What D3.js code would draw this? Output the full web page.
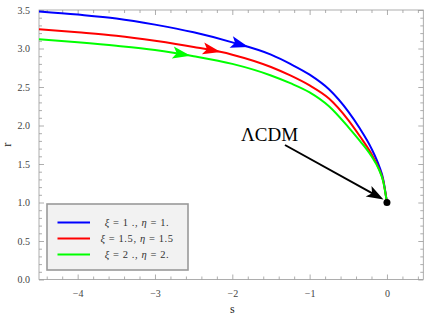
<!DOCTYPE html>
<html>
<head>
<meta charset="utf-8">
<script src="https://cdn.jsdelivr.net/npm/d3@7/dist/d3.min.js"></script>
<style>
    body { margin: 0; background: #fff; }
    svg text { font-family: "Liberation Serif", "DejaVu Serif", serif; }
</style>
</head>
<body>
<div id="chart"></div>
<script>
// s grid shared by the three curves
var sValues = [-4.5, -4.0, -3.5, -3.0, -2.5, -2.0, -1.5, -1.25, -1.0, -0.75, -0.5, -0.35, -0.2, -0.1, -0.05, 0];

// r values
var rBlue  = [3.48, 3.44, 3.39, 3.31, 3.21, 3.08, 2.92, 2.80, 2.66, 2.47, 2.18, 1.96, 1.70, 1.47, 1.31, 1.0];
var rRed   = [3.25, 3.21, 3.165, 3.10, 3.02, 2.92, 2.76, 2.65, 2.52, 2.35, 2.07, 1.86, 1.63, 1.43, 1.29, 1.0];
var rGreen = [3.12, 3.08, 3.035, 2.98, 2.90, 2.80, 2.65, 2.55, 2.43, 2.25, 1.98, 1.80, 1.60, 1.42, 1.28, 1.0];

var seriesNames = ["\u03be = 1 ., \u03b7 = 1.", "\u03be = 1.5, \u03b7 = 1.5", "\u03be = 2 ., \u03b7 = 2."];
var seriesColors = ["#0000ff", "#ff0000", "#00ff00"];
// where the arrow heads sit (s of the tip)
var arrowS = [-1.79, -2.15, -2.54];

// fixed point
var pointS = [0], pointR = [1];
var pointLabel = "\u039bCDM";

var xTicks = [-4, -3, -2, -1, 0];
var yTicks = [0, 0.5, 1.0, 1.5, 2.0, 2.5, 3.0, 3.5];

var width = 427, height = 320;
var margin = {top: 10, right: 3.7, bottom: 40.5, left: 39};
var svg, x, y;

function init() {
    svg = d3.select("#chart").append("svg")
        .attr("width", width)
        .attr("height", height);

    x = d3.scaleLinear()
        .domain([-4.5, 0.47])
        .range([margin.left, width - margin.right]);
    y = d3.scaleLinear()
        .domain([0, 3.5])
        .range([height - margin.bottom, margin.top]);

    drawAxes();
    drawCurves();
    drawLegend();
    drawPoint();
}

function styleAxis(g) {
    g.attr("font-family", "Liberation Serif, serif");
    g.select(".domain").remove();
    g.selectAll("line").attr("stroke", "#999").attr("stroke-width", 0.8);
    g.selectAll("text")
        .attr("fill", "#444")
        .style("font-size", "10px")
        .style("font-family", "'Liberation Serif', serif");
}

function drawAxes() {
    var x0 = margin.left, x1 = width - margin.right;
    var y0 = height - margin.bottom, y1 = margin.top;

    var xMinor = d3.range(-4.4, 0.47, 0.2).filter(function (v) { return Math.abs(Math.round(v) - v) > 1e-6; });
    var yMinor = d3.range(0.1, 3.5, 0.1).filter(function (v) { return Math.abs(Math.round(v * 2) - v * 2) > 1e-6; });

    var fmtX = function (d) { return d < 0 ? "\u2212" + (-d) : d; };

    // bottom
    svg.append("g").attr("transform", "translate(0," + y0 + ")")
        .call(d3.axisBottom(x).tickValues(xTicks).tickSizeInner(-5).tickPadding(10).tickFormat(fmtX))
        .call(styleAxis);
    svg.append("g").attr("transform", "translate(0," + y0 + ")")
        .call(d3.axisBottom(x).tickValues(xMinor).tickSizeInner(-3).tickFormat(""))
        .call(styleAxis);
    // top
    svg.append("g").attr("transform", "translate(0," + y1 + ")")
        .call(d3.axisTop(x).tickValues(xTicks).tickSizeInner(-5).tickFormat(""))
        .call(styleAxis);
    svg.append("g").attr("transform", "translate(0," + y1 + ")")
        .call(d3.axisTop(x).tickValues(xMinor).tickSizeInner(-3).tickFormat(""))
        .call(styleAxis);
    // left
    svg.append("g").attr("transform", "translate(" + x0 + ",0)")
        .call(d3.axisLeft(y).tickValues(yTicks).tickSizeInner(-5).tickPadding(9).tickFormat(d3.format(".1f")))
        .call(styleAxis);
    svg.append("g").attr("transform", "translate(" + x0 + ",0)")
        .call(d3.axisLeft(y).tickValues(yMinor).tickSizeInner(-3).tickFormat(""))
        .call(styleAxis);
    // right
    svg.append("g").attr("transform", "translate(" + x1 + ",0)")
        .call(d3.axisRight(y).tickValues(yTicks).tickSizeInner(-5).tickFormat(""))
        .call(styleAxis);
    svg.append("g").attr("transform", "translate(" + x1 + ",0)")
        .call(d3.axisRight(y).tickValues(yMinor).tickSizeInner(-3).tickFormat(""))
        .call(styleAxis);

    // frame
    svg.append("rect")
        .attr("x", x0).attr("y", y1)
        .attr("width", x1 - x0).attr("height", y0 - y1)
        .attr("fill", "none").attr("stroke", "#999").attr("stroke-width", 0.8);

    // axis labels
    svg.append("text")
        .attr("x", (x(-2.0)))
        .attr("y", 313)
        .attr("text-anchor", "middle")
        .style("font-size", "12px")
        .attr("fill", "#222")
        .text("s");
    svg.append("text")
        .attr("transform", "translate(11," + y(1.75) + ") rotate(-90)")
        .attr("text-anchor", "middle")
        .style("font-size", "12px")
        .attr("fill", "#222")
        .text("r");
}

function drawCurves() {
    var allR = [rBlue, rRed, rGreen];
    var line = d3.line()
        .x(function (d) { return x(d[0]); })
        .y(function (d) { return y(d[1]); })
        .curve(d3.curveMonotoneX);

    allR.forEach(function (r, i) {
        var pts = sValues.map(function (s, j) { return [s, r[j]]; });
        var path = svg.append("path")
            .attr("d", line(pts))
            .attr("fill", "none")
            .attr("stroke", seriesColors[i])
            .attr("stroke-width", 2);

        // arrow head: find the point on the path at the wanted s
        var node = path.node();
        var total = node.getTotalLength();
        var target = x(arrowS[i]);
        var lo = 0, hi = total;
        for (var k = 0; k < 40; k++) {
            var mid = (lo + hi) / 2;
            if (node.getPointAtLength(mid).x < target) lo = mid; else hi = mid;
        }
        var p = node.getPointAtLength(lo);
        var q = node.getPointAtLength(Math.max(0, lo - 2));
        var ang = Math.atan2(p.y - q.y, p.x - q.x) * 180 / Math.PI;
        svg.append("path")
            .attr("d", "M0,0 L-18,-6 L-14,0 L-18,6 Z")
            .attr("fill", seriesColors[i])
            .attr("transform", "translate(" + p.x + "," + p.y + ") rotate(" + ang + ")");
    });
}

function drawLegend() {
    var lx = 47, ly = 204, lw = 141, lh = 66;
    var lg = svg.append("g");
    lg.append("rect")
        .attr("x", lx).attr("y", ly)
        .attr("width", lw).attr("height", lh)
        .attr("fill", "#f2f2f2")
        .attr("stroke", "#999")
        .attr("stroke-width", 1.6);

    seriesNames.forEach(function (name, i) {
        var yy = ly + 18.5 + i * 16;
        lg.append("line")
            .attr("x1", lx + 10.5).attr("x2", lx + 43)
            .attr("y1", yy).attr("y2", yy)
            .attr("stroke", seriesColors[i])
            .attr("stroke-width", 2);
        var t = lg.append("text")
            .attr("x", lx + 90)
            .attr("y", yy + 3.5)
            .attr("text-anchor", "middle")
            .style("font-size", "10.5px")
            .style("letter-spacing", "0.6px")
            .attr("fill", "#333");
        var parts = name.split(/(\u03be|\u03b7)/);
        parts.forEach(function (part) {
            if (part === "") return;
            var ts = t.append("tspan").text(part);
            if (part === "\u03be" || part === "\u03b7") ts.style("font-style", "italic");
        });
    });
}

function drawPoint() {
    var px = x(pointS[0]), py = y(pointR[0]);
    svg.append("circle")
        .attr("cx", px).attr("cy", py)
        .attr("r", 3.5)
        .attr("fill", "#000");

    svg.append("text")
        .attr("x", 241)
        .attr("y", 141)
        .style("font-size", "19px")
        .attr("fill", "#000")
        .text(pointLabel);

    // annotation arrow from label to the point
    var sx = 285, sy = 145, ex = px - 3.5, ey = py - 3;
    var ang = Math.atan2(ey - sy, ex - sx) * 180 / Math.PI;
    var len = Math.sqrt((ex - sx) * (ex - sx) + (ey - sy) * (ey - sy));
    var g = svg.append("g")
        .attr("transform", "translate(" + sx + "," + sy + ") rotate(" + ang + ")");
    g.append("line")
        .attr("x1", 0).attr("y1", 0)
        .attr("x2", len - 10).attr("y2", 0)
        .attr("stroke", "#000")
        .attr("stroke-width", 2);
    g.append("path")
        .attr("d", "M" + len + ",0 L" + (len - 17) + ",-6 L" + (len - 13) + ",0 L" + (len - 17) + ",6 Z")
        .attr("fill", "#000");
}

init();
</script>
</body>
</html>
